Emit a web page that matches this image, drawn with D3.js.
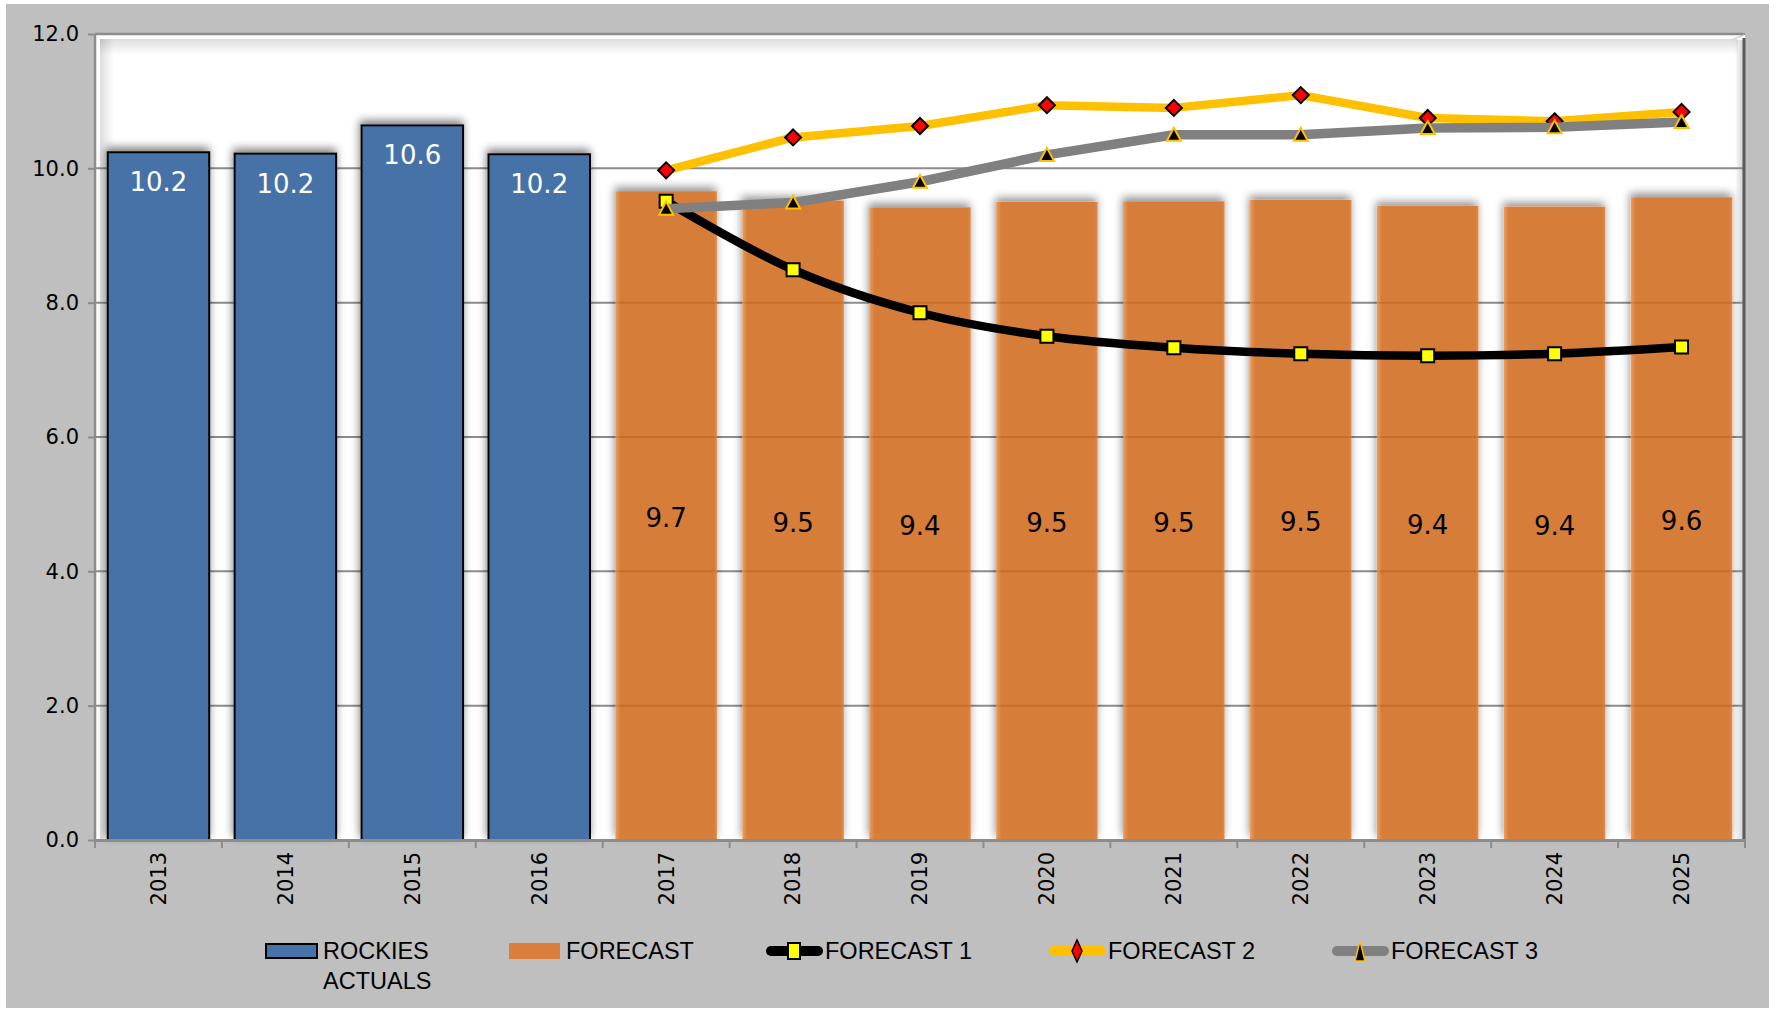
<!DOCTYPE html>
<html>
<head>
<meta charset="utf-8">
<script src="https://cdn.jsdelivr.net/npm/d3@7"></script>
<style>
  body { margin: 0; background: #fff; }
</style>
</head>
<body>
<svg id="chart" width="1777" height="1012"></svg>
<script>
// chart values
const years = ['2013', '2014', '2015', '2016', '2017', '2018', '2019',
               '2020', '2021', '2022', '2023', '2024', '2025'];
const actualYears = ['2013', '2014', '2015', '2016'];
const actuals = [10.24, 10.22, 10.64, 10.21];
const forecastYears = ['2017', '2018', '2019', '2020', '2021', '2022', '2023', '2024', '2025'];
const forecast = [9.66, 9.52, 9.42, 9.50, 9.51, 9.53, 9.44, 9.43, 9.57];
const forecast1 = [9.51, 8.49, 7.85, 7.50, 7.33, 7.24, 7.21, 7.24, 7.34];
const forecast2 = [9.97, 10.46, 10.63, 10.94, 10.90, 11.09, 10.75, 10.70, 10.84];
const forecast3 = [9.40, 9.49, 9.80, 10.20, 10.50, 10.50, 10.60, 10.61, 10.69];
const yTicks = [0, 2, 4, 6, 8, 10, 12];
const legendLabels = ['ROCKIES ACTUALS', 'FORECAST', 'FORECAST 1', 'FORECAST 2', 'FORECAST 3'];

const colors = {
  bg: '#bfbfbf',
  blue: '#4672a8',
  orange: '#d0691a',
  f1: '#000000',
  f2: '#ffc000',
  f3: '#808080',
  grid: '#8c8c8c'
};

const svg = d3.select('#chart');
const plotL = 95, plotR = 1745, plotT = 34, plotB = 840;

const x = d3.scaleBand().domain(years).range([plotL, plotR])
  .paddingInner(0.2).paddingOuter(0.1);
const y = d3.scaleLinear().domain([0, 12]).range([plotB, plotT]);
const step = x.step();

// defs: shadow and gradients
const defs = svg.append('defs');
const f = defs.append('filter').attr('id', 'shadow')
  .attr('x', '-20%').attr('y', '-5%').attr('width', '140%').attr('height', '110%');
f.append('feGaussianBlur').attr('in', 'SourceAlpha').attr('stdDeviation', 4);
f.append('feOffset').attr('dx', -1).attr('dy', -4).attr('result', 'b');
f.append('feFlood').attr('flood-color', '#000').attr('flood-opacity', 0.5);
f.append('feComposite').attr('in2', 'b').attr('operator', 'in').attr('result', 's');
f.append('feComposite').attr('in', 's').attr('in2', 'SourceAlpha').attr('operator', 'out').attr('result', 's2');
const fm = f.append('feMerge');
fm.append('feMergeNode').attr('in', 's2');
fm.append('feMergeNode').attr('in', 'SourceGraphic');

const og = defs.append('linearGradient').attr('id', 'orangeGrad')
  .attr('x1', 0).attr('x2', 1).attr('y1', 0).attr('y2', 0);
og.append('stop').attr('offset', '0%').attr('stop-color', '#eb8d42');
og.append('stop').attr('offset', '5%').attr('stop-color', colors.orange);
og.append('stop').attr('offset', '97%').attr('stop-color', colors.orange);
og.append('stop').attr('offset', '100%').attr('stop-color', '#db7a30');

function edgeGrad(id, x1, y1, x2, y2, op) {
  const g = defs.append('linearGradient').attr('id', id)
    .attr('x1', x1).attr('y1', y1).attr('x2', x2).attr('y2', y2);
  g.append('stop').attr('offset', '0%').attr('stop-color', '#000').attr('stop-opacity', op);
  g.append('stop').attr('offset', '100%').attr('stop-color', '#000').attr('stop-opacity', 0);
}
edgeGrad('topShade', 0, 0, 0, 1, 0.13);
edgeGrad('leftShade', 0, 0, 1, 0, 0.13);
edgeGrad('rightShade', 1, 0, 0, 0, 0.2);

// background
svg.append('rect').attr('x', 6).attr('y', 4).attr('width', 1763).attr('height', 1004)
  .attr('fill', colors.bg);

// plot wall
svg.append('rect').attr('x', plotL).attr('y', plotT).attr('width', plotR - plotL).attr('height', plotB - plotT)
  .attr('fill', '#fff');
svg.append('rect').attr('x', plotL + 5).attr('y', plotT + 5).attr('width', plotR - plotL - 12).attr('height', 16)
  .attr('fill', 'url(#topShade)');
svg.append('rect').attr('x', plotL + 5).attr('y', plotT + 5).attr('width', 14).attr('height', plotB - plotT - 5)
  .attr('fill', 'url(#leftShade)');
svg.append('rect').attr('x', plotR - 10).attr('y', plotT + 6).attr('width', 9).attr('height', plotB - plotT - 6)
  .attr('fill', 'url(#rightShade)');

// gridlines
svg.append('g').selectAll('line').data(yTicks.filter(d => d > 0)).enter().append('line')
  .attr('x1', plotL).attr('x2', plotR)
  .attr('y1', d => y(d)).attr('y2', d => y(d))
  .attr('stroke', colors.grid).attr('stroke-width', 2);

// wall edges
svg.append('line').attr('x1', plotR - 1).attr('x2', plotR - 1).attr('y1', plotT + 4).attr('y2', plotB)
  .attr('stroke', '#5a5a5a').attr('stroke-width', 3);
svg.append('line').attr('x1', plotR - 14).attr('y1', plotT + 6).attr('x2', plotR - 1).attr('y2', plotT + 1)
  .attr('stroke', '#d8d8d8').attr('stroke-width', 1.5);

// actual bars
const actualG = svg.append('g');
actualG.selectAll('rect').data(actuals).enter().append('rect')
  .attr('x', (d, i) => x(actualYears[i]))
  .attr('y', d => y(d))
  .attr('width', x.bandwidth())
  .attr('height', d => y(0) - y(d))
  .attr('fill', colors.blue)
  .attr('stroke', '#000')
  .attr('stroke-width', 2)
  .attr('filter', 'url(#shadow)');

// forecast bars (a little see-through, gridlines show)
const fcG = svg.append('g');
fcG.selectAll('rect').data(forecast).enter().append('rect')
  .attr('x', (d, i) => x(forecastYears[i]))
  .attr('y', d => y(d))
  .attr('width', x.bandwidth())
  .attr('height', d => y(0) - y(d))
  .attr('fill', 'url(#orangeGrad)')
  .attr('fill-opacity', 0.85)
  .attr('filter', 'url(#shadow)');

// axes
const axisG = svg.append('g');
axisG.append('line').attr('x1', plotL).attr('x2', plotL).attr('y1', plotT).attr('y2', plotB)
  .attr('stroke', colors.grid).attr('stroke-width', 2.5);
axisG.append('line').attr('x1', plotL).attr('x2', plotR - 2).attr('y1', plotT).attr('y2', plotT)
  .attr('stroke', colors.grid).attr('stroke-width', 2.5);

const yAxis = svg.append('g').attr('transform', `translate(${plotL},0)`)
  .call(d3.axisLeft(y).tickValues(yTicks).tickFormat(d3.format('.1f')).tickSize(7).tickPadding(9));
yAxis.select('.domain').remove();
yAxis.selectAll('.tick line').attr('stroke', colors.grid).attr('stroke-width', 2);
yAxis.selectAll('.tick text').attr('font-family', 'DejaVu Sans').attr('font-size', 21).attr('fill', '#000');

const xAxis = svg.append('g').attr('transform', `translate(0,${plotB})`)
  .call(d3.axisBottom(x).tickSize(0).tickPadding(0));
xAxis.select('.domain').attr('stroke', colors.grid).attr('stroke-width', 3);
xAxis.selectAll('.tick text')
  .attr('font-family', 'DejaVu Sans').attr('font-size', 21).attr('fill', '#000')
  .attr('text-anchor', 'end')
  .attr('transform', 'translate(0,12) rotate(-90)')
  .attr('dy', '0.35em').attr('x', 0).attr('y', 0);
// tick marks between categories
xAxis.append('g').selectAll('line').data(years.concat(['end'])).enter().append('line')
  .attr('x1', (d, i) => i < years.length ? x(d) - step * 0.1 : plotR)
  .attr('x2', (d, i) => i < years.length ? x(d) - step * 0.1 : plotR)
  .attr('y1', 0).attr('y2', 8)
  .attr('stroke', colors.grid).attr('stroke-width', 2);

// bar labels
svg.append('g').selectAll('text').data(actuals).enter().append('text')
  .attr('x', (d, i) => x(actualYears[i]) + x.bandwidth() / 2)
  .attr('y', d => y(d) + 39)
  .attr('text-anchor', 'middle')
  .attr('font-family', 'DejaVu Sans').attr('font-size', 26)
  .attr('fill', '#fff')
  .text(d => d3.format('.1f')(d));

svg.append('g').selectAll('text').data(forecast).enter().append('text')
  .attr('x', (d, i) => x(forecastYears[i]) + x.bandwidth() / 2)
  .attr('y', d => (y(d) + y(0)) / 2 + 2)
  .attr('dy', '0.36em')
  .attr('text-anchor', 'middle')
  .attr('font-family', 'DejaVu Sans').attr('font-size', 26)
  .attr('fill', '#000')
  .text(d => d3.format('.1f')(d));

// lines
const cx = (d, i) => x(forecastYears[i]) + x.bandwidth() / 2;
const smooth = d3.line().x(cx).y(d => y(d)).curve(d3.curveCatmullRom.alpha(0.5));
const straight = d3.line().x(cx).y(d => y(d));

const square = d3.symbol().type(d3.symbolSquare).size(169);
const diamond = 'M0,-8L8,0L0,8L-8,0Z';
const triangle = 'M0,-8L7,5L-7,5Z';

// forecast 1
svg.append('path').datum(forecast1).attr('d', smooth)
  .attr('fill', 'none').attr('stroke', colors.f1).attr('stroke-width', 8.5);
svg.append('g').selectAll('path').data(forecast1).enter().append('path')
  .attr('d', square)
  .attr('transform', (d, i) => `translate(${cx(d, i)},${y(d)})`)
  .attr('fill', '#ffff00').attr('stroke', '#000').attr('stroke-width', 2);

// forecast 2
svg.append('path').datum(forecast2).attr('d', straight)
  .attr('fill', 'none').attr('stroke', colors.f2).attr('stroke-width', 8.5)
  .attr('stroke-linejoin', 'round');
svg.append('g').selectAll('path').data(forecast2).enter().append('path')
  .attr('d', diamond)
  .attr('transform', (d, i) => `translate(${cx(d, i)},${y(d)})`)
  .attr('fill', '#ff0000').attr('stroke', '#000').attr('stroke-width', 2);

// forecast 3
svg.append('path').datum(forecast3).attr('d', straight)
  .attr('fill', 'none').attr('stroke', colors.f3).attr('stroke-width', 9.5)
  .attr('stroke-linejoin', 'round');
svg.append('g').selectAll('path').data(forecast3).enter().append('path')
  .attr('d', triangle)
  .attr('transform', (d, i) => `translate(${cx(d, i)},${y(d) + 1})`)
  .attr('fill', '#000').attr('stroke', '#ffc000').attr('stroke-width', 2);

// legend
const lg = svg.append('g').attr('font-family', 'Liberation Sans, Arial, sans-serif')
  .attr('font-size', 23.5).attr('fill', '#000');
const legendY = 951;

lg.append('rect').attr('x', 266).attr('y', legendY - 7).attr('width', 51).attr('height', 14)
  .attr('fill', colors.blue).attr('stroke', '#000').attr('stroke-width', 2);
const t0 = lg.append('text').attr('x', 323).attr('y', legendY + 8);
t0.append('tspan').attr('x', 323).text(legendLabels[0].split(' ')[0]);
t0.append('tspan').attr('x', 323).attr('dy', 30).text(legendLabels[0].split(' ')[1]);

lg.append('rect').attr('x', 509).attr('y', legendY - 8).attr('width', 51).attr('height', 16)
  .attr('fill', '#d77f3b');
lg.append('text').attr('x', 566).attr('y', legendY + 8).text(legendLabels[1]);

const lineItems = [
  { x: 766, stroke: colors.f1, w: 10, label: legendLabels[2], mark: 'sq' },
  { x: 1049, stroke: colors.f2, w: 10, label: legendLabels[3], mark: 'di' },
  { x: 1332, stroke: colors.f3, w: 10, label: legendLabels[4], mark: 'tri' }
];
lineItems.forEach(function (it) {
  lg.append('line').attr('x1', it.x + 5).attr('x2', it.x + 52).attr('y1', legendY).attr('y2', legendY)
    .attr('stroke', it.stroke).attr('stroke-width', it.w).attr('stroke-linecap', 'round');
  const m = lg.append('path').attr('transform', `translate(${it.x + 28},${legendY})`);
  if (it.mark === 'sq') {
    m.attr('d', 'M-6,-8H6V8H-6Z').attr('fill', '#ffff00').attr('stroke', '#000').attr('stroke-width', 2);
  } else if (it.mark === 'di') {
    m.attr('d', 'M0,-11L5,0L0,11L-5,0Z').attr('fill', '#ff0000').attr('stroke', '#000').attr('stroke-width', 1.5);
  } else {
    m.attr('d', 'M0,-10L5,10L-5,10Z').attr('fill', '#000').attr('stroke', '#ffc000').attr('stroke-width', 1.5);
  }
  lg.append('text').attr('x', it.x + 59).attr('y', legendY + 8).text(it.label);
});
</script>
</body>
</html>
